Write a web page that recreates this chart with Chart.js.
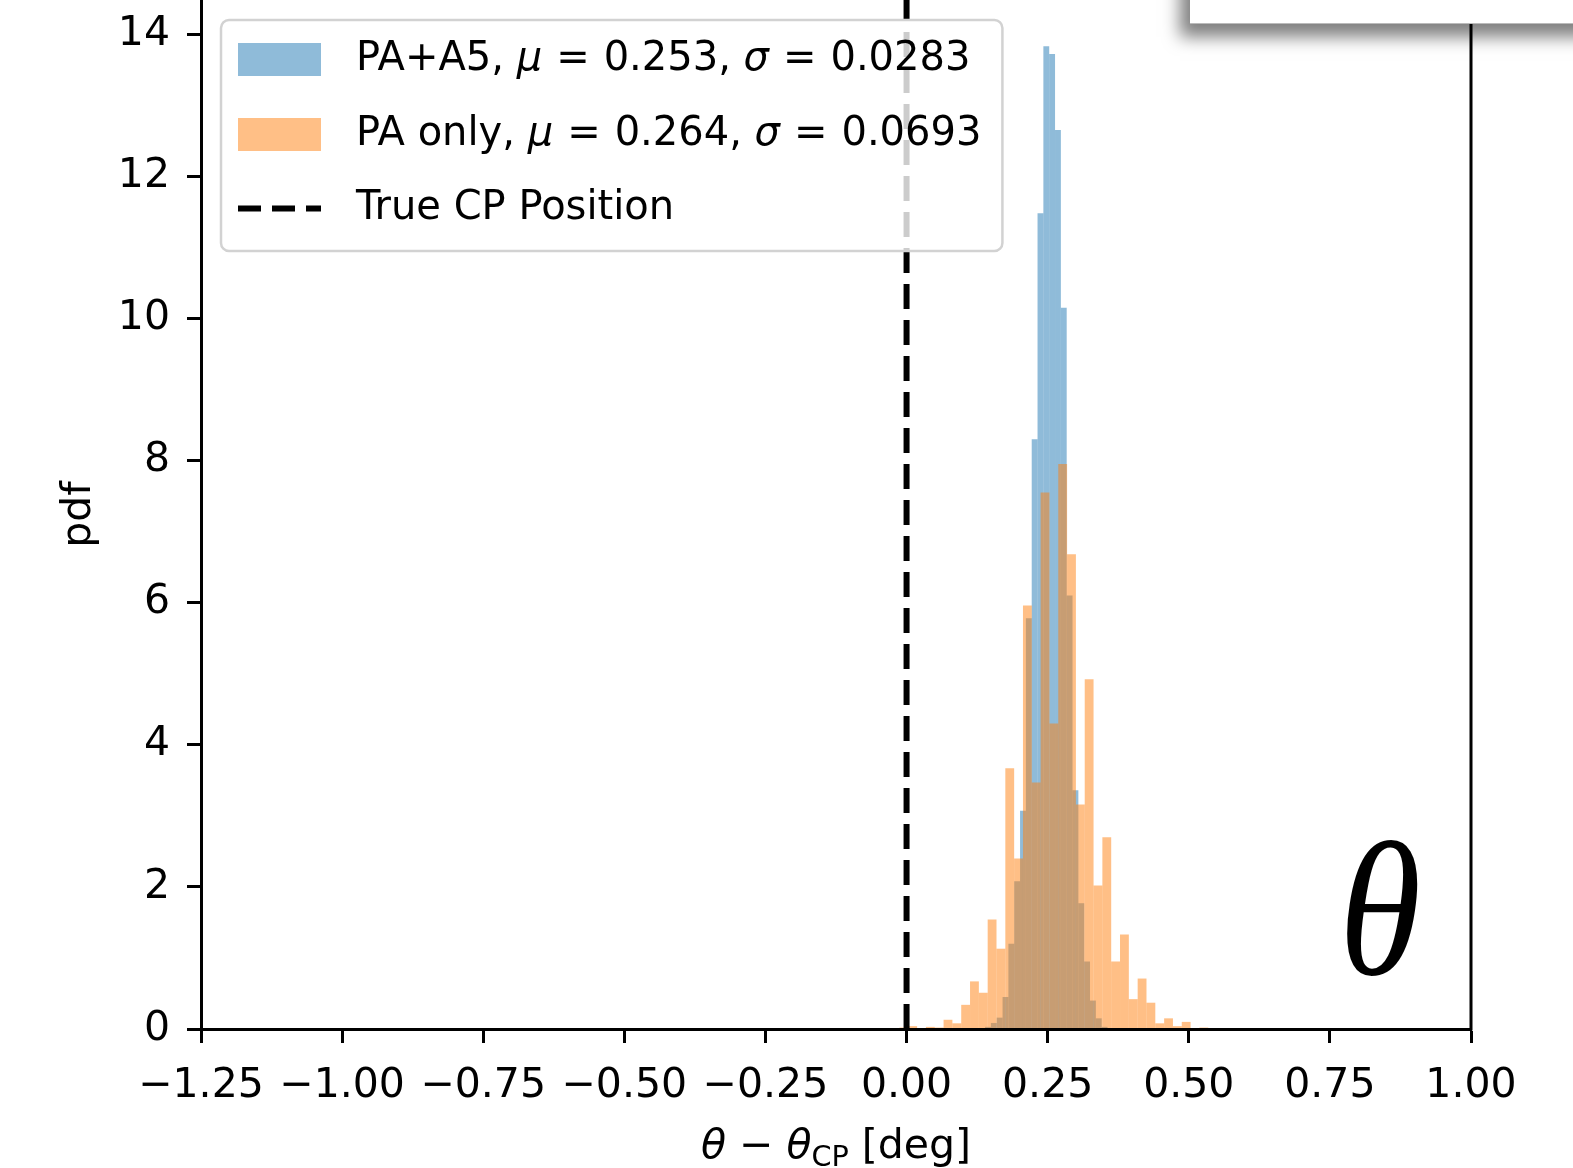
<!DOCTYPE html>
<html>
<head>
<meta charset="utf-8">
<script src="https://cdn.jsdelivr.net/npm/chart.js@4.4.1/dist/chart.umd.min.js"></script>
<style>
  html, body { margin: 0; padding: 0; background: #fff; overflow: hidden; }
  #wrap { position: relative; width: 1573px; height: 1168px; }
  #flap {
    position: absolute; left: 1190px; top: -60px; width: 440px; height: 83px;
    background: #fff; border-bottom: 1px solid #bbb;
    box-shadow: -10px 13px 16px rgba(0, 0, 0, 0.5);
  }
</style>
</head>
<body>
<div id="wrap">
  <canvas id="myChart" width="1573" height="1168"></canvas>
  <div id="flap"></div>
</div>
<script>
/* histogram data (pdf per bin) */
const orangeBinStart = -0.0282;
const orangeBinWidth = 0.01563;
const orangeHeights = [
  0.01, 0.02, 0.04, 0.0, 0.03, 0.02, 0.13, 0.08, 0.34, 0.67,
  0.51, 1.54, 1.13, 3.67, 2.40, 5.96, 3.47, 7.55, 4.30, 7.95,
  6.68, 3.16, 4.92, 2.02, 2.70, 0.95, 1.33, 0.42, 0.71, 0.37,
  0.08, 0.15, 0.04, 0.10, 0.0, 0.02, 0.01
];

const blueBinStart = 0.1391;
const blueBinWidth = 0.01033;
const blueHeights = [
  0.03, 0.085, 0.16, 0.45, 1.20, 2.08, 3.07, 5.78, 8.30, 11.48,
  13.83, 13.72, 12.65, 10.15, 6.10, 3.36, 1.77, 0.95, 0.40, 0.15,
  0.03
];

const seriesNames = ['PA+A5', 'PA only'];
const seriesMeans = ['0.253', '0.264'];
const seriesSigmas = ['0.0283', '0.0693'];
const refLineLabel = 'True CP Position';
const refLineX = 0;

const xTicks = [-1.25, -1.0, -0.75, -0.5, -0.25, 0.0, 0.25, 0.5, 0.75, 1.0];
const yTicks = [0, 2, 4, 6, 8, 10, 12, 14];
const xMin = -1.25, xMax = 1.0, yMax = 14.48;

const blueFill = 'rgba(31, 119, 180, 0.5)';
const orangeFill = 'rgba(255, 127, 14, 0.5)';
const FONT = '"DejaVu Sans"';

function toBins(start, width, heights) {
  return heights.map((h, i) => ({ x: start + (i + 0.5) * width, y: h }));
}

function fmtX(v) {
  if (Math.abs(v) < 1e-9) v = 0;
  return v.toFixed(2).replace('-', '\u2212');
}

// text pieces: plain, italic, subscript, or a fixed gap in px
function runWidth(c, r, size) {
  if (r.gap) return r.gap;
  const s = r.sub ? size * 0.7 : size;
  c.font = (r.it ? 'italic ' : '') + s + 'px ' + FONT;
  return c.measureText(r.t).width;
}
function drawRuns(c, runs, x, y, size) {
  let cx = x;
  runs.forEach(r => {
    const w = runWidth(c, r, size);
    if (!r.gap) c.fillText(r.t, cx, r.sub ? y + size * 0.2 : y);
    cx += w;
  });
  return cx - x;
}
function runsWidth(c, runs, size) {
  return runs.reduce((w, r) => w + runWidth(c, r, size), 0);
}

const legendBox = {
  id: 'legendBox',
  afterDatasetsDraw(chart) {
    const c = chart.ctx;
    const a = chart.chartArea;
    const size = 40;
    const eq = [{ gap: 14 }, { t: '=' }, { gap: 14 }];
    const rows = seriesNames.map((n, i) => [
      { t: n + ', ' }, { t: '\u03bc', it: true }, ...eq, { t: seriesMeans[i] + ', ' },
      { t: '\u03c3', it: true }, ...eq, { t: seriesSigmas[i] }
    ]);
    rows.push([{ t: refLineLabel }]);
    const left = a.left + 20, top = a.top + 20;
    const textX = left + 135;
    const maxW = Math.max(...rows.map(r => runsWidth(c, r, size)));
    const w = textX - left + maxW + 21, h = 231;

    c.save();
    c.beginPath();
    c.roundRect(left, top, w, h, 8);
    c.fillStyle = 'rgba(255,255,255,0.8)';
    c.fill();
    c.lineWidth = 2.5;
    c.strokeStyle = '#d2d2d2';
    c.stroke();

    const rowY = [top + 39.5, top + 114.5, top + 188.5];
    const fills = [blueFill, orangeFill];
    fills.forEach((f, i) => {
      c.fillStyle = f;
      c.fillRect(left + 17, rowY[i] - 16.5, 83, 33);
    });
    c.beginPath();
    c.setLineDash([23, 11]);
    c.lineWidth = 6;
    c.strokeStyle = '#000';
    c.moveTo(left + 17, rowY[2]);
    c.lineTo(left + 100, rowY[2]);
    c.stroke();
    c.setLineDash([]);

    c.fillStyle = '#000';
    c.textBaseline = 'middle';
    c.textAlign = 'left';
    rows.forEach((r, i) => drawRuns(c, r, textX, rowY[i], size));
    c.restore();
  }
};

const extras = {
  id: 'extras',
  afterDraw(chart) {
    const c = chart.ctx;
    const a = chart.chartArea;
    c.save();
    // right spine
    c.beginPath();
    c.lineWidth = 3;
    c.strokeStyle = '#000';
    c.moveTo(a.right, a.top);
    c.lineTo(a.right, a.bottom + 1.5);
    c.stroke();

    // x axis label with subscript
    const size = 41;
    const runs = [
      { t: '\u03b8', it: true }, { t: ' \u2212 ' }, { t: '\u03b8', it: true },
      { t: 'CP', sub: true }, { t: ' [deg]' }
    ];
    const w = runsWidth(c, runs, size);
    c.fillStyle = '#000';
    c.textBaseline = 'alphabetic';
    c.textAlign = 'left';
    drawRuns(c, runs, (a.left + a.right) / 2 - w / 2, a.bottom + 129, size);

    // panel tag
    c.translate(a.right - 91, a.bottom - 55);
    c.scale(0.88, 1);
    c.font = 'italic 190px "Liberation Serif"';
    c.textAlign = 'center';
    c.fillText('\u03b8', 0, 0);
    c.restore();
  }
};

const tickFont = { family: FONT, size: 41 };

const barStyle = {
  borderWidth: 0,
  inflateAmount: 0,
  grouped: false,
  barPercentage: 1,
  categoryPercentage: 1
};

const ctx = document.getElementById('myChart').getContext('2d');
const myChart = new Chart(ctx, {
  type: 'bar',
  data: {
    datasets: [
      {
        type: 'line',
        label: refLineLabel,
        data: [{ x: refLineX, y: 0 }, { x: refLineX, y: yMax }],
        borderColor: '#000',
        borderWidth: 6,
        borderDash: [25, 11],
        borderCapStyle: 'butt',
        pointRadius: 0,
        fill: false,
        xAxisID: 'x',
        order: 0
      },
      Object.assign({
        label: seriesNames[1],
        data: toBins(orangeBinStart, orangeBinWidth, orangeHeights),
        backgroundColor: orangeFill,
        xAxisID: 'x',
        order: 1
      }, barStyle),
      Object.assign({
        label: seriesNames[0],
        data: toBins(blueBinStart, blueBinWidth, blueHeights),
        backgroundColor: blueFill,
        xAxisID: 'x2',
        order: 2
      }, barStyle)
    ]
  },
  options: {
    responsive: false,
    animation: false,
    layout: { padding: { left: 0, right: 102, top: 0, bottom: 0 } },
    plugins: { legend: { display: false }, tooltip: { enabled: false } },
    scales: {
      x: {
        type: 'linear',
        position: 'bottom',
        min: xMin,
        max: xMax,
        offset: false,
        afterBuildTicks: s => { s.ticks = xTicks.map(v => ({ value: v })); },
        afterFit: s => { s.height = 139; },
        grid: { drawOnChartArea: false, offset: false, tickLength: 14, tickWidth: 3, tickColor: '#000', z: 1 },
        border: { display: true, color: '#000', width: 3, z: 1 },
        ticks: { font: tickFont, color: '#000', padding: 19, maxRotation: 0, autoSkip: false, callback: v => fmtX(v) }
      },
      x2: { type: 'linear', display: false, min: xMin, max: xMax, offset: false },
      y: {
        type: 'linear',
        min: 0,
        max: yMax,
        afterBuildTicks: s => { s.ticks = yTicks.map(v => ({ value: v })); },
        afterFit: s => { s.width = 201; s.paddingTop = 0; s.paddingBottom = 0; },
        grid: { drawOnChartArea: false, tickLength: 14, tickWidth: 3, tickColor: '#000', z: 1 },
        border: { display: true, color: '#000', width: 3, z: 1 },
        ticks: { font: tickFont, color: '#000', padding: 17, callback: v => String(v) },
        title: { display: true, text: 'pdf', font: tickFont, color: '#000', padding: { top: 55 } }
      }
    }
  },
  plugins: [legendBox, extras]
});
</script>
</body>
</html>
